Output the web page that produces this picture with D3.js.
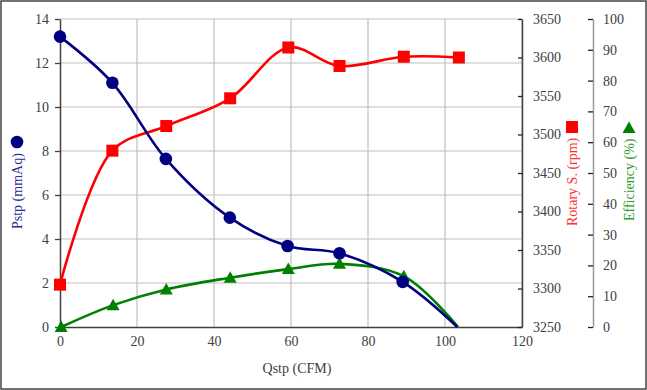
<!DOCTYPE html>
<html><head><meta charset="utf-8">
<script src="https://cdn.jsdelivr.net/npm/d3@7"></script>
<style>body{margin:0;background:#fff}svg{display:block}</style>
</head><body>
<svg id="c" width="647" height="390"></svg>
<script>
const pstpX = [0, 13.6, 27.5, 44.1, 59.1, 72.6, 89.0, 103.2];
const pstp = [13.2, 11.1, 7.64, 4.97, 3.68, 3.35, 2.05, 0];
const rpmX = [0, 13.6, 27.6, 44.2, 59.3, 72.6, 89.3, 103.6];
const rpm = [3305, 3479, 3511, 3547, 3613, 3589, 3601, 3600];
const effX = [0.3, 13.8, 27.6, 44.2, 59.3, 72.6, 89.3, 103.4];
const eff = [0, 7.1, 12.2, 16.0, 18.8, 20.5, 16.5, 0];
const xTicks = [0, 20, 40, 60, 80, 100, 120];
const pTicks = [0, 2, 4, 6, 8, 10, 12, 14];
const rTicks = [3250, 3300, 3350, 3400, 3450, 3500, 3550, 3600, 3650];
const eTicks = [0, 10, 20, 30, 40, 50, 60, 70, 80, 90, 100];

const svg = d3.select("#c");
const font = "'Liberation Serif','Times New Roman',serif";
const L = 60, R = 522, T = 19, B = 327;
const x = d3.scaleLinear().domain([0, 120]).range([L, R]);
const yP = d3.scaleLinear().domain([0, 14]).range([B, T]);
const yR = d3.scaleLinear().domain([3250, 3650]).range([B, T]);
const yE = d3.scaleLinear().domain([0, 100]).range([B, T]);

svg.append("rect").attr("x", 1).attr("y", 1).attr("width", 645).attr("height", 388)
  .attr("fill", "#fff").attr("stroke", "#444").attr("stroke-width", 1.5);

// grid
const g = svg.append("g");
g.selectAll(".vg").data(xTicks.slice(1)).join("line")
  .attr("x1", d => x(d)).attr("x2", d => x(d)).attr("y1", T).attr("y2", B)
  .attr("stroke", "#c0c0c0").attr("stroke-width", 1.2);
g.selectAll(".hg").data(pTicks.slice(1)).join("line")
  .attr("x1", L).attr("x2", R).attr("y1", d => yP(d)).attr("y2", d => yP(d))
  .attr("stroke", "#c0c0c0").attr("stroke-width", 1.2);

function styleAxis(sel, lineColor) {
  sel.attr("font-family", font).attr("font-size", 14);
  sel.selectAll("text").style("font-family", font).style("font-size", "14px").attr("fill", "#404040");
  sel.select(".domain").attr("stroke", lineColor).attr("stroke-width", 1.5);
  sel.selectAll(".tick line").attr("stroke", "#222").attr("stroke-width", 1.3);
}
const fmt = d3.format("d");
const ax = svg.append("g").attr("transform", `translate(0,${B})`)
  .call(d3.axisBottom(x).tickValues(xTicks).tickFormat(fmt).tickSize(0).tickPadding(9).tickSizeOuter(0));
styleAxis(ax, "#404040");
const ayL = svg.append("g").attr("transform", `translate(${L},0)`)
  .call(d3.axisLeft(yP).tickValues(pTicks).tickFormat(fmt).tickSize(5).tickPadding(6).tickSizeOuter(0));
styleAxis(ayL, "#404040");
ayL.selectAll(".tick line").attr("stroke", "#404040");
const ayR = svg.append("g").attr("transform", `translate(${R},0)`)
  .call(d3.axisRight(yR).tickValues(rTicks).tickFormat(fmt).tickSize(-4).tickPadding(11).tickSizeOuter(0));
styleAxis(ayR, "#404040");
const ayE = svg.append("g").attr("transform", `translate(593,0)`)
  .call(d3.axisRight(yE).tickValues(eTicks).tickFormat(fmt).tickSize(-5).tickPadding(10).tickSizeOuter(0));
styleAxis(ayE, "#999");

// curves
const curve = d3.curveCatmullRom.alpha(0.5);
function series(xs, ys, yScale, color, marker, skipLast) {
  const pts = xs.map((v, i) => [x(v), yScale(ys[i])]);
  svg.append("path").attr("d", d3.line().curve(curve)(pts))
    .attr("fill", "none").attr("stroke", color).attr("stroke-width", 2.6);
  const m = svg.append("g");
  (skipLast ? pts.slice(0, -1) : pts).forEach(p => marker(m, p[0], p[1], color));
}
const circ = (m, cx, cy, c) => m.append("circle").attr("cx", cx).attr("cy", cy).attr("r", 6.3).attr("fill", c);
const sq = (m, cx, cy, c) => m.append("rect").attr("x", cx - 6).attr("y", cy - 6).attr("width", 12).attr("height", 12).attr("fill", c);
const tri = (m, cx, cy, c) => m.append("path").attr("d", `M${cx},${cy - 6.5}L${cx + 6.5},${cy + 5}L${cx - 6.5},${cy + 5}Z`).attr("fill", c);

series(rpmX, rpm, yR, "#ff0000", sq, false);
series(effX, eff, yE, "#008000", tri, true);
series(pstpX, pstp, yP, "#000080", circ, true);

// axis titles
svg.append("text").attr("x", 297).attr("y", 373).attr("text-anchor", "middle")
  .attr("font-family", font).attr("font-size", 14).attr("fill", "#404040").text("Qstp (CFM)");
function vtitle(cx, yBottom, text, color) {
  svg.append("text").attr("transform", `translate(${cx + 5},${yBottom}) rotate(-90)`)
    .attr("font-family", font).attr("font-size", 14).attr("fill", color).text(text);
}
vtitle(17, 229, "Pstp (mmAq)", "#2b2b9b");
circ(svg, 17, 142, "#000080");
vtitle(572, 226, "Rotary S. (rpm)", "#ff3333");
sq(svg, 572, 127, "#ff0000");
vtitle(629, 221, "Efficiency (%)", "#339933");
tri(svg, 629, 128, "#008000");
</script>
</body></html>
